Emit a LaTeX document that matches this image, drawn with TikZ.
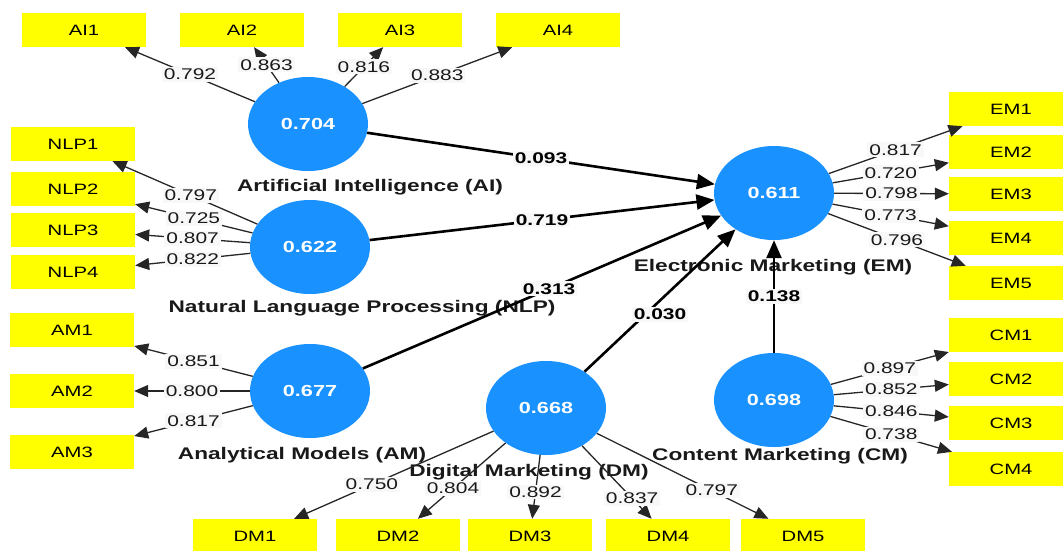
\documentclass[tikz,border=0pt]{standalone}
\usepackage{fontspec}
\setmainfont{Liberation Sans}[FakeStretch=1.35]
\usetikzlibrary{arrows.meta,shapes.geometric}
\definecolor{lvblue}{RGB}{25,145,255}
\definecolor{mvyellow}{RGB}{255,255,0}
\definecolor{lblbg}{RGB}{248,248,248}

\begin{document}
\begin{tikzpicture}[x=1pt,y=-1pt,node distance=158pt,
    latent/.style={ellipse,fill=lvblue,minimum width=120pt,minimum height=94pt,inner sep=0pt,
      text=white,font=\fontsize{16}{18}\selectfont\bfseries},
    item/.style={rectangle,fill=mvyellow,minimum width=124pt,minimum height=34pt,inner sep=0pt,
      font=\fontsize{15}{18}\selectfont},
    lvname/.style={font=\fontsize{16.8}{20}\selectfont\bfseries,text=black!90},
    load/.style={-{Triangle[length=14pt,width=12pt]},line width=1.3pt,black!85},
    struct/.style={-{Triangle[length=18pt,width=15pt]},line width=2.6pt},
    lbl/.style={fill=lblbg,inner sep=2pt,text=black!90,font=\fontsize{15.5}{18}\selectfont},
    plbl/.style={lbl,text=black,font=\fontsize{15.5}{18}\selectfont\bfseries}]
  \useasboundingbox (0,0) rectangle (1063,550);

  \node[latent] (AI) at (308,124) {0.704};
  \node[latent] (NLP) at (310,247) {0.622};
  \node[latent] (AM) at (310,391) {0.677};
  \node[latent] (DM) at (546,408) {0.668};
  \node[latent] (CM) at (774,400) {0.698};
  \node[latent] (EM) at (774,193) {0.611};

  \node[lvname] (AIname) at (370,187) {Artificial Intelligence (AI)};
  \node[lvname] (NLPname) at (362,308) {Natural Language Processing (NLP)};
  \node[lvname] (EMname) at (773,267) {Electronic Marketing (EM)};
  \node[lvname] (AMname) at (302,455) {Analytical Models (AM)};
  \node[lvname] (DMname) at (529,472) {Digital Marketing (DM)};
  \node[lvname] (CMname) at (780,456) {Content Marketing (CM)};

  \node[item] (AI1) at (84,30) {AI1};
  \node[item] (AI2) [right of=AI1] {AI2};
  \node[item] (AI3) [right of=AI2] {AI3};
  \node[item] (AI4) [right of=AI3] {AI4};

  \node[item] (NLP1) at (73,144) {NLP1};
  \node[item] (NLP2) at (73,189) {NLP2};
  \node[item] (NLP3) at (73,230) {NLP3};
  \node[item] (NLP4) at (73,272) {NLP4};

  \node[item] (AM1) at (72,330) {AM1};
  \node[item] (AM2) at (72,391) {AM2};
  \node[item] (AM3) at (72,452) {AM3};

  \node[item] (DM1) at (255,536) {DM1};
  \node[item] (DM2) at (398,536) {DM2};
  \node[item] (DM3) at (530,536) {DM3};
  \node[item] (DM4) at (668,536) {DM4};
  \node[item] (DM5) at (803,536) {DM5};

  \node[item] (EM1) at (1011,109) {EM1};
  \node[item] (EM2) at (1011,152) {EM2};
  \node[item] (EM3) at (1011,194) {EM3};
  \node[item] (EM4) at (1011,238) {EM4};
  \node[item] (EM5) at (1011,283) {EM5};

  \node[item] (CM1) at (1011,335) {CM1};
  \node[item] (CM2) at (1011,379) {CM2};
  \node[item] (CM3) at (1011,423) {CM3};
  \node[item] (CM4) at (1011,469) {CM4};

  % outer loadings
  \draw[load] (AI) -- node[lbl] {0.792} (AI1);
  \draw[load] (AI) -- node[lbl] {0.863} (AI2);
  \draw[load] (AI) -- node[lbl] {0.816} (AI3);
  \draw[load] (AI) -- node[lbl] {0.883} (AI4);

  \draw[load] (NLP) -- node[lbl,pos=0.46] {0.797} (NLP1);
  \draw[load] (NLP) -- node[lbl] {0.725} (NLP2);
  \draw[load] (NLP) -- node[lbl] {0.807} (NLP3);
  \draw[load] (NLP) -- node[lbl] {0.822} (NLP4);

  \draw[load] (AM) -- node[lbl] {0.851} (AM1);
  \draw[load] (AM) -- node[lbl] {0.800} (AM2);
  \draw[load] (AM) -- node[lbl] {0.817} (AM3);

  \draw[load] (DM) -- node[lbl,pos=0.61] {0.750} (DM1);
  \draw[load] (DM) -- node[lbl,pos=0.6] {0.804} (DM2);
  \draw[load] (DM) -- node[lbl,pos=0.58] {0.892} (DM3);
  \draw[load] (DM) -- node[lbl,pos=0.72] {0.837} (DM4);
  \draw[load] (DM) -- node[lbl,pos=0.67] {0.797} (DM5);

  \draw[load] (EM) -- node[lbl] {0.817} (EM1);
  \draw[load] (EM) -- node[lbl] {0.720} (EM2);
  \draw[load] (EM) -- node[lbl] {0.798} (EM3);
  \draw[load] (EM) -- node[lbl] {0.773} (EM4);
  \draw[load] (EM) -- node[lbl] {0.796} (EM5);

  \draw[load] (CM) -- node[lbl] {0.897} (CM1);
  \draw[load] (CM) -- node[lbl] {0.852} (CM2);
  \draw[load] (CM) -- node[lbl] {0.846} (CM3);
  \draw[load] (CM) -- node[lbl] {0.738} (CM4);

  % path coefficients
  \draw[struct] (AI) -- node[plbl] {0.093} (EM);
  \draw[struct] (NLP) -- node[plbl] {0.719} (EM);
  \draw[struct] (AM) -- node[plbl,pos=0.52] {0.313} (EM);
  \draw[struct] (DM) -- node[plbl,yshift=-14pt] {0.030} (EM);
  \draw[struct] (CM) -- node[plbl] {0.138} (EM);
\end{tikzpicture}
\end{document}
